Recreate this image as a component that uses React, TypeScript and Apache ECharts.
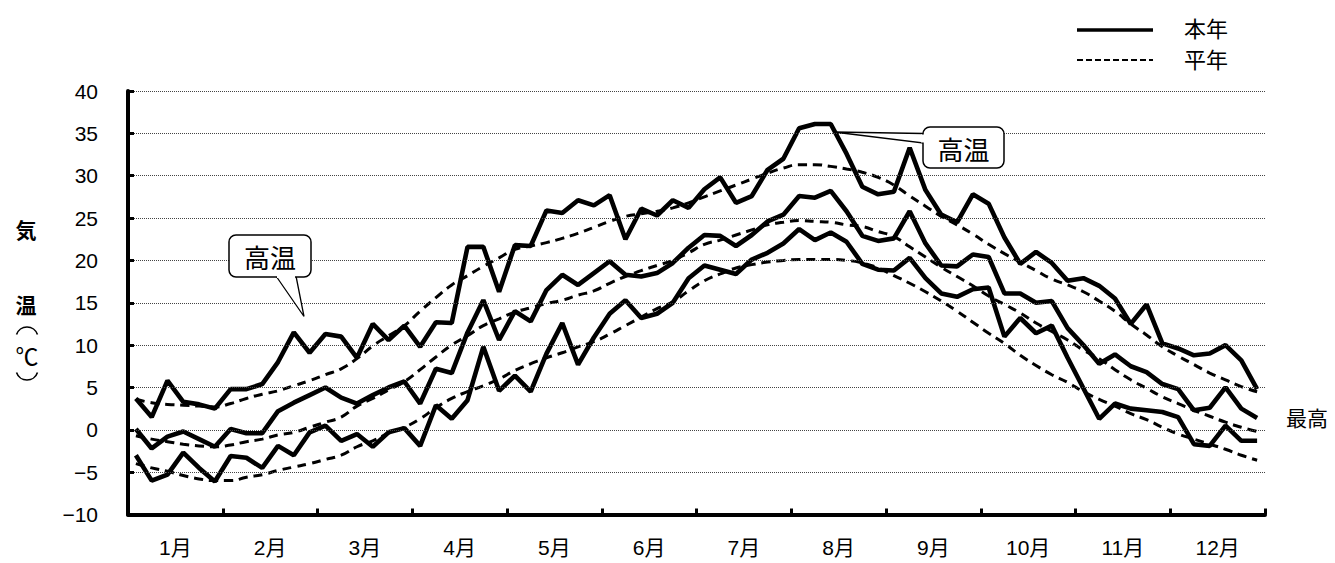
import React, { useEffect, useRef } from "react";
import * as echarts from "echarts";

const months = ["1月", "2月", "3月", "4月", "5月", "6月", "7月", "8月", "9月", "10月", "11月", "12月"];

// 本年 (this year), 6 values per month
const maxThisYear = [3.7, 1.5, 5.8, 3.3, 3.0, 2.5, 4.8, 4.8, 5.4, 8.0, 11.5, 9.1, 11.3, 11.0, 8.5, 12.5, 10.6, 12.3, 9.8, 12.7, 12.6, 21.6, 21.6, 16.3, 21.8, 21.7, 25.9, 25.6, 27.1, 26.5, 27.7, 22.5, 26.1, 25.3, 27.1, 26.2, 28.4, 29.8, 26.8, 27.6, 30.7, 32.0, 35.6, 36.1, 36.1, 32.6, 28.7, 27.8, 28.1, 33.3, 28.3, 25.4, 24.5, 27.8, 26.7, 22.7, 19.6, 21.0, 19.7, 17.6, 17.9, 17.0, 15.5, 12.5, 14.8, 10.2, 9.6, 8.8, 9.0, 10.0, 8.2, 4.8];
const meanThisYear = [0.1, -2.2, -0.8, -0.2, -1.1, -2.0, 0.1, -0.4, -0.4, 2.2, 3.2, 4.1, 5.0, 3.8, 3.1, 4.1, 5.0, 5.7, 3.1, 7.2, 6.7, 11.5, 15.3, 10.6, 14.0, 12.8, 16.5, 18.3, 17.1, 18.5, 19.9, 18.3, 18.1, 18.5, 19.7, 21.5, 23.0, 22.9, 21.7, 23.0, 24.6, 25.4, 27.6, 27.4, 28.2, 25.8, 22.9, 22.3, 22.6, 25.8, 22.0, 19.4, 19.3, 20.7, 20.4, 16.1, 16.1, 15.0, 15.2, 12.0, 10.0, 7.8, 8.9, 7.5, 6.8, 5.4, 4.8, 2.3, 2.6, 5.0, 2.5, 1.4];
const minThisYear = [-3.0, -6.0, -5.3, -2.7, -4.5, -6.1, -3.1, -3.3, -4.5, -1.9, -3.0, -0.3, 0.5, -1.3, -0.5, -2.0, -0.3, 0.2, -1.9, 2.9, 1.3, 3.5, 9.8, 4.6, 6.4, 4.5, 9.0, 12.6, 7.7, 10.9, 13.7, 15.3, 13.2, 13.7, 15.0, 17.9, 19.4, 18.9, 18.4, 20.1, 20.9, 22.0, 23.7, 22.4, 23.3, 22.2, 19.6, 18.9, 18.8, 20.3, 17.9, 16.1, 15.7, 16.6, 16.8, 11.0, 13.2, 11.4, 12.3, 8.5, 4.9, 1.3, 3.1, 2.5, 2.3, 2.1, 1.5, -1.7, -1.9, 0.5, -1.3, -1.3];

// 平年 (normal)
const maxNormal = [3.6, 3.2, 3.0, 2.9, 2.8, 2.7, 3.1, 3.7, 4.2, 4.6, 5.2, 5.8, 6.5, 7.2, 8.4, 9.9, 11.1, 12.3, 14.0, 15.6, 17.1, 18.2, 19.3, 20.3, 21.3, 21.7, 22.1, 22.6, 23.2, 23.9, 24.6, 25.2, 25.5, 25.8, 26.2, 26.8, 27.5, 28.2, 28.9, 29.6, 30.3, 30.9, 31.3, 31.3, 31.1, 30.8, 30.4, 29.8, 28.9, 27.6, 26.4, 25.2, 24.2, 23.1, 21.9, 20.8, 19.8, 18.8, 17.8, 17.1, 16.3, 15.2, 14.0, 12.5, 11.2, 9.8, 8.7, 7.7, 6.7, 5.9, 5.1, 4.5];
const meanNormal = [-0.7, -1.1, -1.4, -1.7, -1.9, -2.0, -1.8, -1.4, -1.1, -0.6, -0.3, 0.3, 0.9, 1.5, 2.8, 3.7, 4.7, 5.7, 7.1, 8.6, 10.0, 11.1, 12.3, 13.1, 13.9, 14.4, 14.9, 15.3, 15.9, 16.4, 17.3, 18.1, 18.8, 19.4, 20.0, 20.9, 21.9, 22.4, 23.0, 23.6, 24.2, 24.5, 24.7, 24.6, 24.5, 24.2, 24.0, 23.4, 22.8, 21.6, 20.4, 19.2, 18.1, 17.0, 15.8, 14.8, 13.8, 12.6, 11.6, 10.6, 9.4, 8.4, 7.1, 5.9, 4.9, 3.9, 3.1, 2.3, 1.6, 0.9, 0.3, -0.2];
const minNormal = [-4.0, -4.5, -4.9, -5.4, -5.8, -6.0, -6.0, -5.6, -5.3, -4.8, -4.4, -4.0, -3.5, -3.0, -2.0, -1.3, -0.4, 0.3, 1.3, 2.6, 3.7, 4.5, 5.2, 6.0, 7.0, 7.8, 8.5, 9.1, 9.8, 10.4, 11.3, 12.3, 13.3, 14.3, 15.1, 16.4, 17.6, 18.4, 19.1, 19.5, 19.8, 20.0, 20.1, 20.1, 20.1, 20.0, 19.7, 19.1, 18.2, 17.3, 16.3, 15.2, 14.0, 12.7, 11.4, 10.2, 8.8, 7.6, 6.5, 5.6, 4.5, 3.6, 2.8, 1.9, 1.2, 0.3, -0.5, -1.1, -1.7, -2.3, -3.0, -3.6];

const FONT = "'Liberation Sans', 'Noto Sans CJK JP', sans-serif";
const CJK = "'Noto Sans CJK JP', sans-serif";

const toPairs = (arr: number[]) => arr.map((v, i) => [i, v]);

function txt(text: string, x: number, y: number, size: number, weight: string = "normal") {
  return {
    type: "text",
    z: 100,
    x,
    y,
    style: {
      text,
      x: 0,
      y: 0,
      fill: "#000",
      fontSize: size,
      fontFamily: CJK,
      fontWeight: weight,
      align: "center",
      verticalAlign: "middle",
      textAlign: "center",
      textVerticalAlign: "middle",
    },
  };
}

export default function App() {
  const ref = useRef<HTMLDivElement>(null);

  useEffect(() => {
    if (!ref.current) return;
    const chart = echarts.init(ref.current, null, { renderer: "svg" });

    const solid = (name: string, data: number[]) => ({
      name,
      type: "line",
      xAxisIndex: 1,
      yAxisIndex: 0,
      data: toPairs(data),
      symbol: "none",
      showSymbol: false,
      z: 5,
      lineStyle: { color: "#000", width: 4.6 },
    });
    const dashed = (name: string, data: number[]) => ({
      name,
      type: "line",
      xAxisIndex: 1,
      yAxisIndex: 0,
      data: toPairs(data),
      symbol: "none",
      showSymbol: false,
      smooth: true,
      z: 4,
      lineStyle: { color: "#000", width: 3, type: [9, 6] },
    });

    chart.setOption({
      animation: false,
      backgroundColor: "#fff",
      grid: { left: 128, right: 70, top: 91, bottom: 48.5, containLabel: false },
      xAxis: [
        {
          type: "category",
          data: months,
          boundaryGap: true,
          position: "bottom",
          axisLine: { show: true, onZero: false, lineStyle: { color: "#000", width: 4 } },
          axisTick: { show: true, inside: true, length: 6, lineStyle: { color: "#000", width: 3 } },
          axisLabel: { color: "#000", fontSize: 21, fontFamily: FONT, margin: 22 },
          splitLine: { show: false },
          z: 10,
        },
        {
          type: "value",
          min: -0.5,
          max: 71.5,
          show: false,
          axisLine: { onZero: false },
          splitLine: { show: false },
        },
      ],
      yAxis: {
        type: "value",
        min: -10,
        max: 40,
        interval: 5,
        position: "left",
        axisLine: { show: true, onZero: false, lineStyle: { color: "#000", width: 4 } },
        axisTick: { show: true, inside: true, length: 6, lineStyle: { color: "#000", width: 3 } },
        axisLabel: {
          color: "#000",
          fontSize: 21,
          fontFamily: FONT,
          margin: 30,
          formatter: (v: number) => (v < 0 ? "\u2212" + Math.abs(v) : String(v)),
        },
        splitLine: { show: true, lineStyle: { color: "#444", width: 1, type: [1, 1] } },
        z: 10,
      },
      series: [
        solid("本年最高", maxThisYear),
        solid("本年平均", meanThisYear),
        solid("本年最低", minThisYear),
        dashed("平年最高", maxNormal),
        dashed("平年平均", meanNormal),
        dashed("平年最低", minNormal),
      ],
      graphic: [
        // legend
        { type: "line", z: 100, shape: { x1: 1077, y1: 30, x2: 1153, y2: 30 }, style: { stroke: "#000", lineWidth: 3.5 } },
        { type: "line", z: 100, shape: { x1: 1077, y1: 60, x2: 1153, y2: 60 }, style: { stroke: "#000", lineWidth: 2, lineDash: [6, 3] } },
        txt("本年", 1206, 27, 22),
        txt("平年", 1206, 58, 22),
        // y-axis title (vertical)
        txt("気", 26, 229, 21, "bold"),
        txt("温", 26, 304, 21, "bold"),
        {
          type: "arc",
          z: 100,
          shape: { cx: 27, cy: 338, r: 11, startAngle: Math.PI * 1.1, endAngle: Math.PI * 1.9, clockwise: true },
          style: { stroke: "#000", lineWidth: 1.6, fill: null },
        },
        txt("℃", 27, 355, 23),
        {
          type: "arc",
          z: 100,
          shape: { cx: 27, cy: 369, r: 11, startAngle: Math.PI * 0.1, endAngle: Math.PI * 0.9, clockwise: true },
          style: { stroke: "#000", lineWidth: 1.6, fill: null },
        },
        // right label
        txt("最高", 1307, 417, 21),
        // callout 1
        {
          type: "polygon",
          z: 90,
          shape: { points: [[276, 276], [304, 316.5], [296, 276]] },
          style: { fill: "#fff", stroke: "#000", lineWidth: 1.3 },
        },
        {
          type: "rect",
          z: 91,
          shape: { x: 229, y: 235, width: 82, height: 42, r: 7 },
          style: { fill: "#fff", stroke: "#000", lineWidth: 1.5 },
        },
        { type: "rect", z: 92, shape: { x: 277, y: 274, width: 18, height: 4 }, style: { fill: "#fff" } },
        txt("高温", 270, 256.5, 26),
        // callout 2
        {
          type: "polygon",
          z: 90,
          shape: { points: [[923, 133.5], [834, 132], [923, 143]] },
          style: { fill: "#fff", stroke: "#000", lineWidth: 1.3 },
        },
        {
          type: "rect",
          z: 91,
          shape: { x: 923, y: 127, width: 81, height: 41, r: 7 },
          style: { fill: "#fff", stroke: "#000", lineWidth: 1.5 },
        },
        { type: "rect", z: 92, shape: { x: 921, y: 134.5, width: 4, height: 8 }, style: { fill: "#fff" } },
        txt("高温", 963.5, 148, 26),
      ],
    });

    return () => chart.dispose();
  }, []);

  return (
    <div
      ref={ref}
      style={{ position: "fixed", left: 0, top: 0, width: 1335, height: 563, background: "#fff" }}
    />
  );
}
